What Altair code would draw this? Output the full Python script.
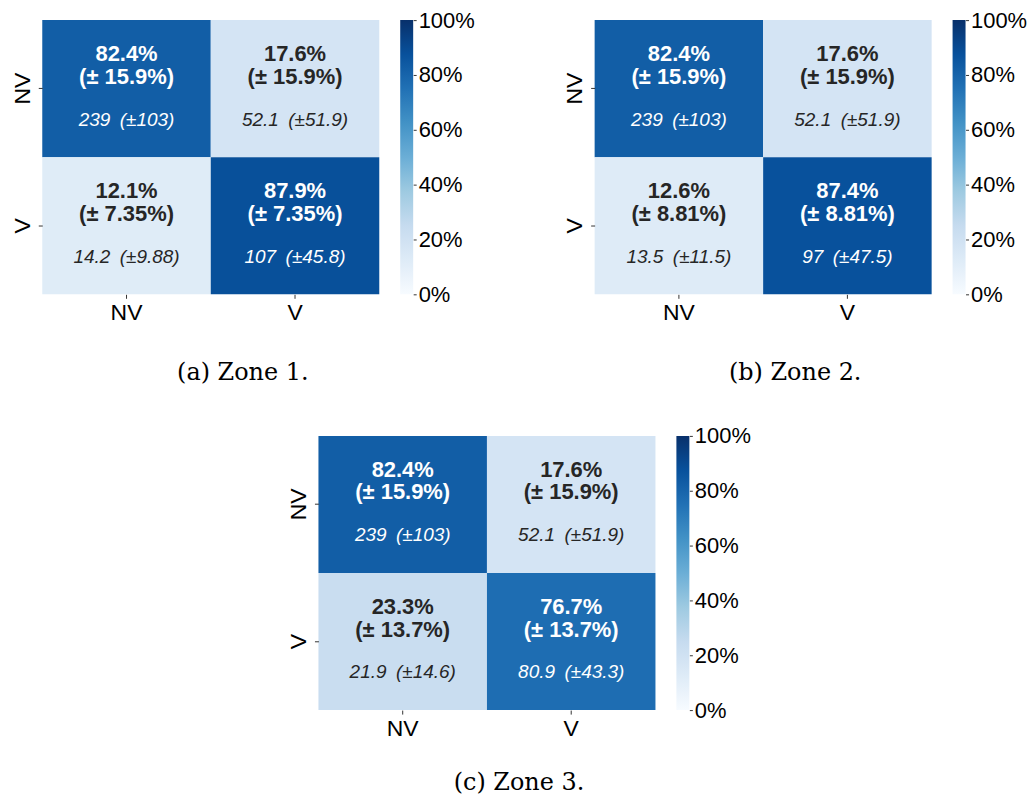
import altair as alt
import pandas as pd

# ---- data -------------------------------------------------------------
rows = ["NV", "V"]          # actual (y)
cols = ["NV", "V"]          # predicted (x)
captions = ["(a) Zone 1.", "(b) Zone 2.", "(c) Zone 3."]

# cell order: (NV,NV), (NV,V), (V,NV), (V,V)
z1_pct = [82.4, 17.6, 12.1, 87.9]
z1_pct_sd = [15.9, 15.9, 7.35, 7.35]
z1_cnt = [239, 52.1, 14.2, 107]
z1_cnt_sd = [103, 51.9, 9.88, 45.8]

z2_pct = [82.4, 17.6, 12.6, 87.4]
z2_pct_sd = [15.9, 15.9, 8.81, 8.81]
z2_cnt = [239, 52.1, 13.5, 97]
z2_cnt_sd = [103, 51.9, 11.5, 47.5]

z3_pct = [82.4, 17.6, 23.3, 76.7]
z3_pct_sd = [15.9, 15.9, 13.7, 13.7]
z3_cnt = [239, 52.1, 21.9, 80.9]
z3_cnt_sd = [103, 51.9, 14.6, 43.3]

cbar_ticks = [0, 0.2, 0.4, 0.6, 0.8, 1.0]

# matplotlib "Blues" anchor colours
blues_stops = [0, 0.125, 0.25, 0.375, 0.5, 0.625, 0.75, 0.875, 1.0]
blues_colors = ["#f7fbff", "#deebf7", "#c6dbef", "#9ecae1", "#6baed6",
                "#4292c6", "#2171b5", "#08519c", "#08306b"]

SANS = "Liberation Sans"
SERIF = "DejaVu Serif"
W, H = 338, 275
CB_W = 13


def make_df(pct, pct_sd, cnt, cnt_sd):
    act = [r for r in rows for _ in cols]
    pred = [c for _ in rows for c in cols]
    return pd.DataFrame({
        "actual": act,
        "pred": pred,
        "frac": [p / 100 for p in pct],
        "l1": [f"{p:.3g}%" for p in pct],
        "l2": [f"(\u00b1 {s:.3g}%)" for s in pct_sd],
        "l3": [f"{c:.3g}\u2002(\u00b1{s:.3g})" for c, s in zip(cnt, cnt_sd)],
    })


def heatmap(df):
    base = alt.Chart(df)
    x = alt.X("pred:N", sort=cols, title=None,
              axis=alt.Axis(labelAngle=0, labelFont=SANS, labelFontSize=23,
                            labelColor="black", tickSize=4, tickColor="#333333",
                            domain=False, labelPadding=3))
    y = alt.Y("actual:N", sort=rows, title=None,
              axis=alt.Axis(labelAngle=270, labelFont=SANS, labelFontSize=23,
                            labelColor="black", tickSize=4, tickColor="#333333",
                            domain=False, labelPadding=4))
    txt_color = alt.condition(alt.datum.frac > 0.5, alt.value("white"),
                              alt.value("#262626"))
    rect = base.mark_rect().encode(
        x=x, y=y,
        color=alt.Color("frac:Q",
                        scale=alt.Scale(domain=blues_stops, range=blues_colors,
                                        interpolate="rgb"),
                        legend=None))
    t1 = base.mark_text(dy=-35, font=SANS, fontSize=22, fontWeight="bold").encode(
        x=x, y=y, text="l1:N", color=txt_color)
    t2 = base.mark_text(dy=-12, font=SANS, fontSize=22, fontWeight="bold").encode(
        x=x, y=y, text="l2:N", color=txt_color)
    t3 = base.mark_text(dy=31, font=SANS, fontSize=19, fontStyle="italic").encode(
        x=x, y=y, text="l3:N", color=txt_color)
    return alt.layer(rect, t1, t2, t3).properties(width=W, height=H)


def colorbar():
    grad = alt.LinearGradient(
        gradient="linear", x1=0, x2=0, y1=1, y2=0,
        stops=[alt.GradientStop(offset=o, color=c)
               for o, c in zip(blues_stops, blues_colors)])
    df = pd.DataFrame({"lo": [cbar_ticks[0]], "hi": [cbar_ticks[-1]]})
    return alt.Chart(df).mark_rect(color=grad).encode(
        x=alt.value(0), x2=alt.value(CB_W),
        y=alt.Y("lo:Q", title=None,
                scale=alt.Scale(domain=[0, 1], nice=False, zero=False),
                axis=alt.Axis(orient="right", values=cbar_ticks, format=".0%",
                              labelFont=SANS, labelFontSize=22,
                              labelColor="black", tickSize=3,
                              tickColor="#333333", labelPadding=2,
                              domain=False, grid=False, labelFlush=False,
                              labelBaseline="middle")),
        y2="hi:Q",
    ).properties(width=CB_W, height=H)


def panel(df, caption, title_offset):
    return alt.hconcat(
        heatmap(df), colorbar(), spacing=21,
        title=alt.TitleParams(caption, orient="bottom", anchor="middle",
                              frame="bounds", font=SERIF, fontSize=24,
                              fontWeight="normal", color="black",
                              offset=title_offset),
    ).resolve_scale(x="independent", y="independent", color="independent")


pa = panel(make_df(z1_pct, z1_pct_sd, z1_cnt, z1_cnt_sd), captions[0], 37)
pb = panel(make_df(z2_pct, z2_pct_sd, z2_cnt, z2_cnt_sd), captions[1], 37)
pc = panel(make_df(z3_pct, z3_pct_sd, z3_cnt, z3_cnt_sd), captions[2], 31)

top = alt.hconcat(pa, pb, spacing=89).resolve_scale(
    x="independent", y="independent", color="independent")
chart = alt.vconcat(top, pc, spacing=40, center=True).resolve_scale(
    x="independent", y="independent", color="independent").configure_view(
    stroke=None).properties(
    padding={"left": 3, "top": 0, "right": 0, "bottom": 0},
    background="white")

chart.save("out.html", embed_options={"renderer": "svg", "actions": False})
